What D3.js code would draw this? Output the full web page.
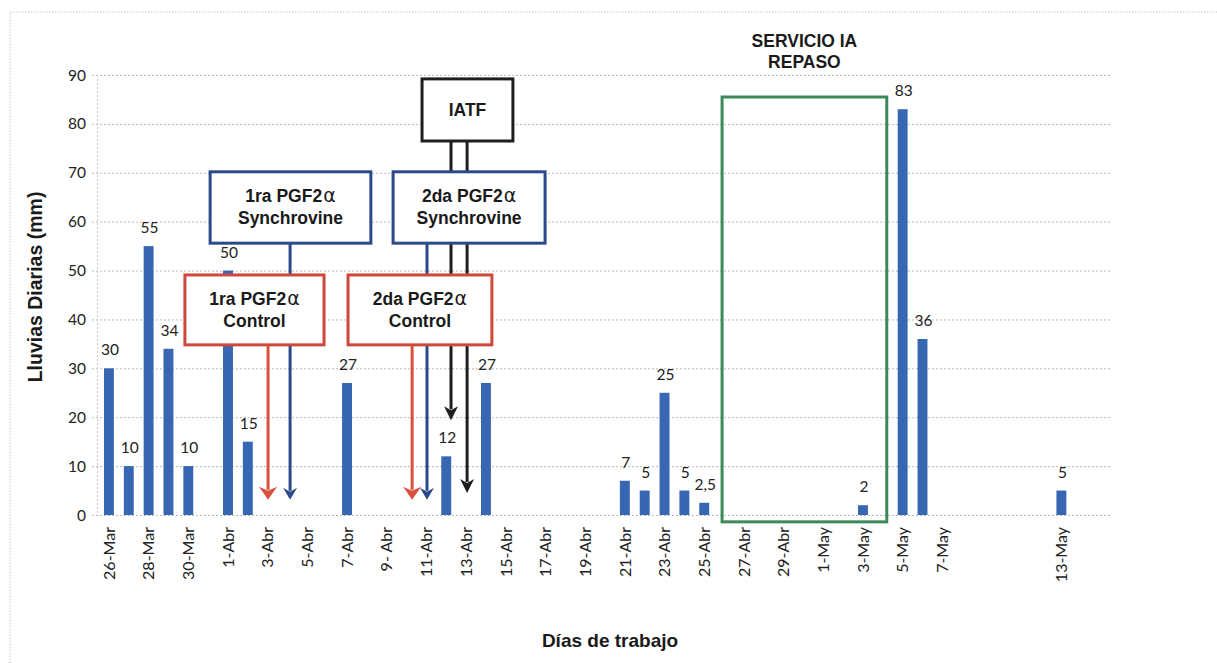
<!DOCTYPE html>
<html><head><meta charset="utf-8">
<script src="https://cdn.jsdelivr.net/npm/d3@7"></script>
<style>body{margin:0;background:#fff}</style>
</head><body><svg id="c" width="1217" height="663"></svg>
<script>
// ---- categories (one per day) ----
const categories = [
 "26-Mar","27-Mar","28-Mar","29-Mar","30-Mar","31-Mar",
 "1-Abr","2-Abr","3-Abr","4-Abr","5-Abr","6-Abr","7-Abr","8-Abr","9-Abr","10-Abr",
 "11-Abr","12-Abr","13-Abr","14-Abr","15-Abr","16-Abr","17-Abr","18-Abr","19-Abr","20-Abr",
 "21-Abr","22-Abr","23-Abr","24-Abr","25-Abr","26-Abr","27-Abr","28-Abr","29-Abr","30-Abr",
 "1-May","2-May","3-May","4-May","5-May","6-May","7-May","8-May","9-May","10-May",
 "11-May","12-May","13-May","14-May","15-May"];
// ---- tick labels shown on the axis ----
const tickCats = ["26-Mar","28-Mar","30-Mar","1-Abr","3-Abr","5-Abr","7-Abr","9-Abr","11-Abr","13-Abr",
 "15-Abr","17-Abr","19-Abr","21-Abr","23-Abr","25-Abr","27-Abr","29-Abr","1-May","3-May","5-May","7-May","13-May"];
const tickLabels = ["26-Mar","28-Mar","30-Mar","1-Abr","3-Abr","5-Abr","7-Abr","9- Abr","11-Abr","13-Abr",
 "15-Abr","17-Abr","19-Abr","21-Abr","23-Abr","25-Abr","27-Abr","29-Abr","1-May","3-May","5-May","7-May","13-May"];
// ---- rainfall series ----
const rainDays = ["26-Mar","27-Mar","28-Mar","29-Mar","30-Mar","1-Abr","2-Abr","7-Abr","12-Abr","14-Abr",
 "21-Abr","22-Abr","23-Abr","24-Abr","25-Abr","3-May","5-May","6-May","13-May"];
const rainValues = [30,10,55,34,10,50,15,27,12,27,7,5,25,5,2.5,2,83,36,5];
const rainLabels = ["30","10","55","34","10","50","15","27","12","27","7","5","25","5","2,5","2","83","36","5"];
const yTicks = [0,10,20,30,40,50,60,70,80,90];

// ---- annotations (x in day index, y in mm) ----
const boxes = [
 {lines:["1ra PGF2","Synchrovine"], alpha:true, color:"#2a4a8c", x0:5.1, x1:13.2, y0:70.2, y1:55.6, fill:"#fff"},
 {lines:["2da PGF2","Synchrovine"], alpha:true, color:"#2a4a8c", x0:14.32, x1:21.98, y0:70.2, y1:55.6, fill:"#fff"},
 {lines:["1ra PGF2","Control"], alpha:true, color:"#d0473b", x0:3.83, x1:10.84, y0:49.1, y1:34.8, fill:"#fff"},
 {lines:["2da PGF2","Control"], alpha:true, color:"#d0473b", x0:12.05, x1:19.3, y0:49.1, y1:34.8, fill:"#fff"},
 {lines:["IATF"], alpha:false, color:"#1e1e1e", x0:15.78, x1:20.36, y0:89.2, y1:76.5, fill:"#fff"}
];
const arrows = [
 {x:9.13, y0:55.6, y1:3.1, color:"#2a4a8c", hw:7, hh:12},
 {x:16.03, y0:55.6, y1:3.1, color:"#2a4a8c", hw:7, hh:12},
 {x:8.02, y0:34.8, y1:3.1, color:"#d9503f", hw:9, hh:13},
 {x:15.28, y0:34.8, y1:3.1, color:"#d9503f", hw:9, hh:13},
 {x:17.24, y0:76.5, y1:19.4, color:"#1e1e1e", hw:7, hh:14},
 {x:18.05, y0:76.5, y1:4.5, color:"#1e1e1e", hw:7, hh:14}
];
const greenBox = {x0:30.9, x1:39.2, y0:85.5, y1:-1.4, color:"#3c8a5c", title:["SERVICIO IA","REPASO"]};

(function(){
const svg = d3.select("#c");
const mLeft = 99, mRight = 1111, mTop = 75, mBottom = 515;
const x = d3.scaleBand().domain(categories).range([mLeft, mRight]).paddingInner(0.5).paddingOuter(0.25);
const y = d3.scaleLinear().domain([0, 90]).range([mBottom, mTop]);
const step = x.step();
const xi = i => x(categories[0]) + x.bandwidth()/2 + i*step;

// outer frame
svg.append("path").attr("d", "M10,663 L10,12 L1217,12")
  .attr("fill","none").attr("stroke","#c8c8c8").attr("stroke-width",1).attr("stroke-dasharray","1.5,1.5");

// grid
svg.append("g").selectAll("line").data(yTicks).join("line")
  .attr("x1", 92).attr("x2", 1112)
  .attr("y1", d => y(d)+0.5).attr("y2", d => y(d)+0.5)
  .attr("stroke", "#b9b9b9").attr("stroke-width", 1).attr("stroke-dasharray", "2,2");
svg.append("line").attr("x1", 97.5).attr("x2", 97.5).attr("y1", y(90)).attr("y2", y(0))
  .attr("stroke", "#c8c8c8").attr("stroke-dasharray", "2,2");

// y tick labels
svg.append("g").selectAll("text").data(yTicks).join("text")
  .attr("x", 86).attr("y", d => y(d)).attr("dy", "0.36em")
  .attr("text-anchor", "end").attr("font-family", "Lato, 'Open Sans', sans-serif")
  .attr("font-size", 15.5).attr("fill", "#222").text(d => d);

// x tick labels
svg.append("g").selectAll("text").data(tickCats).join("text")
  .attr("transform", d => `translate(${x(d)+x.bandwidth()/2},527) rotate(-90)`)
  .attr("dy", "0.36em").attr("text-anchor", "end")
  .attr("font-family", "Lato, 'Open Sans', sans-serif").attr("font-size", 16).attr("fill", "#222")
  .text((d,i) => tickLabels[i]);

// bars
const rain = rainDays.map((d,i) => ({d, v: rainValues[i], l: rainLabels[i]}));
svg.append("g").selectAll("rect").data(rain).join("rect")
  .attr("x", d => x(d.d)).attr("width", x.bandwidth())
  .attr("y", d => y(d.v)).attr("height", d => y(0) - y(d.v))
  .attr("fill", "#3766b2");
svg.append("g").selectAll("text").data(rain).join("text")
  .attr("x", d => x(d.d) + x.bandwidth()/2 + 1).attr("y", d => y(d.v) - 13)
  .attr("text-anchor", "middle").attr("font-family", "Lato, 'Open Sans', sans-serif")
  .attr("font-size", 15.5).attr("fill", "#222").text(d => d.l);

// arrows
const ag = svg.append("g");
arrows.forEach(a => {
  const xp = xi(a.x), ys = y(a.y0), ye = y(a.y1);
  ag.append("line").attr("x1", xp).attr("x2", xp).attr("y1", ys).attr("y2", ye - a.hh + 3)
    .attr("stroke", a.color).attr("stroke-width", 3);
  ag.append("path")
    .attr("d", `M${xp},${ye} L${xp-a.hw},${ye-a.hh} L${xp},${ye-a.hh+4} L${xp+a.hw},${ye-a.hh} Z`)
    .attr("fill", a.color);
});

// boxes
boxes.forEach(b => {
  const bx0 = xi(b.x0), bx1 = xi(b.x1), by0 = y(b.y0), by1 = y(b.y1);
  svg.append("rect").attr("x", bx0).attr("y", by0).attr("width", bx1-bx0).attr("height", by1-by0)
    .attr("fill", b.fill).attr("stroke", b.color).attr("stroke-width", 3);
  const cx = (bx0+bx1)/2, cy = (by0+by1)/2;
  const n = b.lines.length;
  b.lines.forEach((ln, k) => {
    const t = svg.append("text").attr("x", cx).attr("y", cy + 6 + (k - (n-1)/2)*22)
      .attr("text-anchor", "middle").attr("font-family", "'Liberation Sans', Arial, sans-serif")
      .attr("font-weight", "bold").attr("font-size", 17.5).attr("fill", "#1a1a1a");
    t.append("tspan").text(ln);
    if (b.alpha && k === 0) t.append("tspan").attr("font-weight", "normal").attr("dx", 1)
      .attr("font-family", "'DejaVu Sans', sans-serif").attr("font-size", 19).text("α");
  });
});

// green service box
{
  const g = greenBox, bx0 = xi(g.x0), bx1 = xi(g.x1), by0 = y(g.y0), by1 = y(g.y1);
  svg.append("rect").attr("x", bx0).attr("y", by0).attr("width", bx1-bx0).attr("height", by1-by0)
    .attr("fill", "none").attr("stroke", g.color).attr("stroke-width", 3);
  g.title.forEach((t, k) => svg.append("text").attr("x", (bx0+bx1)/2).attr("y", by0 - 50 + k*21)
    .attr("text-anchor", "middle").attr("font-family", "'Liberation Sans', Arial, sans-serif")
    .attr("font-weight", "bold").attr("font-size", 17.5).attr("fill", "#1a1a1a").text(t));
}

// axis titles
svg.append("text").attr("transform", "translate(42,287) rotate(-90)")
  .attr("text-anchor", "middle").attr("font-family", "'Liberation Sans', Arial, sans-serif")
  .attr("font-weight", "bold").attr("font-size", 19.5).attr("fill", "#1a1a1a").text("Lluvias Diarias (mm)");
svg.append("text").attr("x", 610).attr("y", 647)
  .attr("text-anchor", "middle").attr("font-family", "'Liberation Sans', Arial, sans-serif")
  .attr("font-weight", "bold").attr("font-size", 19).attr("fill", "#1a1a1a").text("Días de trabajo");
})();
</script></body></html>
